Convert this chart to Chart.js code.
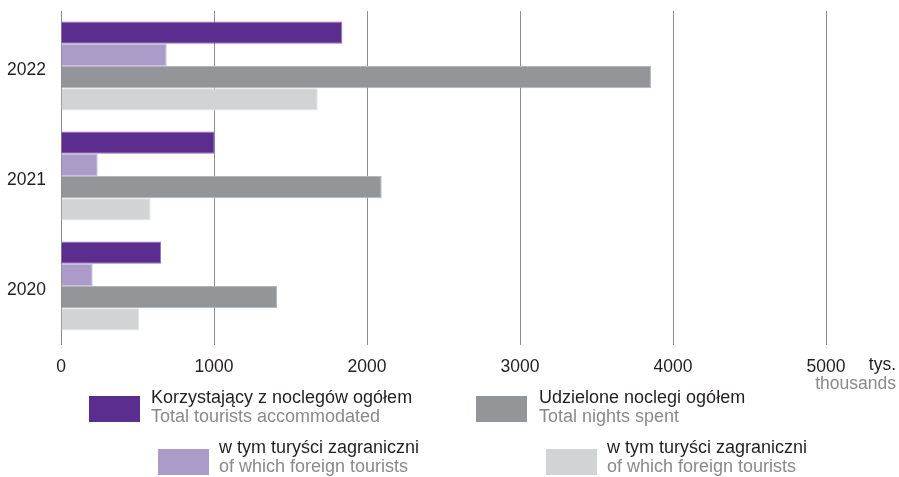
<!DOCTYPE html>
<html>
<head>
<meta charset="utf-8">
<script src="https://cdn.jsdelivr.net/npm/chart.js@4/dist/chart.umd.min.js"></script>
<style>
  html, body { margin: 0; padding: 0; background: #fff; }
  #wrap { position: relative; width: 899px; height: 477px; font-family: "Liberation Sans", Arial, sans-serif; }
  #chart { position: absolute; left: 0; top: 0; }
  .unit { position: absolute; font-size: 17.5px; line-height: 19px; text-align: right; white-space: nowrap; }
  .box { position: absolute; width: 51px; height: 26px; }
  .txt { position: absolute; font-size: 18px; line-height: 19px; white-space: nowrap; color: #231f20; }
  .txt span { display: block; color: #8a8a8a; }
</style>
</head>
<body>
<div id="wrap">
  <canvas id="chart" width="899" height="477"></canvas>
  <div class="unit" style="left:790px; top:355px; width:106px;">
    <span style="color:#231f20">tys.</span><br><span style="color:#8a8a8a">thousands</span>
  </div>
  <div id="legend"></div>
</div>
<script>
// categories (top to bottom)
const years = ['2022', '2021', '2020'];

// values in thousands
const touristsTotal = [1839, 1005, 654];
const touristsForeign = [691, 240, 207];
const nightsTotal = [3856, 2096, 1412];
const nightsForeign = [1678, 586, 510];

const xTicks = [0, 1000, 2000, 3000, 4000, 5000];

const labelsPl = ['Korzystający z noclegów ogółem', 'w tym turyści zagraniczni', 'Udzielone noclegi ogółem', 'w tym turyści zagraniczni'];
const labelsEn = ['Total tourists accommodated', 'of which foreign tourists', 'Total nights spent', 'of which foreign tourists'];

const colors = ['#5b2d8e', '#ab9bc8', '#939598', '#d1d3d4'];
const edges = ['#8f74b8', '#c9bedd', '#b5b6b8', '#e4e5e6'];

const font = "'Liberation Sans', Arial, sans-serif";

document.addEventListener("DOMContentLoaded", function() {
    const series = [touristsTotal, touristsForeign, nightsTotal, nightsForeign];

    const ctx = document.getElementById('chart').getContext('2d');
    new Chart(ctx, {
        type: 'bar',
        data: {
            labels: years,
            datasets: series.map((vals, i) => ({
                label: labelsPl[i],
                data: vals,
                backgroundColor: colors[i],
                borderColor: edges[i],
                borderWidth: 1,
                categoryPercentage: 0.81,
                barPercentage: 1
            }))
        },
        options: {
            indexAxis: 'y',
            responsive: false,
            animation: false,
            layout: { padding: { top: 11, right: 73, bottom: 101, left: 0 } },
            plugins: {
                legend: { display: false },
                tooltip: { enabled: false }
            },
            scales: {
                x: {
                    min: 0,
                    max: 5000,
                    afterFit: function(scale) {
                        scale.height = 35;
                        scale.paddingLeft = 0;
                        scale.paddingRight = 0;
                    },
                    afterBuildTicks: function(scale) {
                        scale.ticks = xTicks.map(v => ({ value: v }));
                    },
                    border: { display: false },
                    grid: {
                        color: '#8c8c8c',
                        lineWidth: 1,
                        drawTicks: true,
                        tickLength: 4
                    },
                    ticks: {
                        color: '#231f20',
                        padding: 12,
                        maxRotation: 0,
                        font: { family: font, size: 17.5 },
                        callback: function(value) { return String(value); }
                    }
                },
                y: {
                    afterFit: function(scale) {
                        scale.width = 61;
                        scale.paddingTop = 0;
                        scale.paddingBottom = 0;
                    },
                    border: { display: false },
                    grid: { display: false, drawTicks: false },
                    ticks: {
                        color: '#231f20',
                        padding: 15,
                        labelOffset: 4,
                        font: { family: font, size: 17.5 }
                    }
                }
            }
        }
    });

    // legend, two rows offset like the original
    const legendPos = [
        { box: [89, 396], txt: [151, 388] },
        { box: [158, 449], txt: [219, 438] },
        { box: [476, 396], txt: [539, 388] },
        { box: [546, 449], txt: [607, 438] }
    ];
    const legend = document.getElementById('legend');
    legendPos.forEach((p, i) => {
        const box = document.createElement('div');
        box.className = 'box';
        box.style.left = p.box[0] + 'px';
        box.style.top = p.box[1] + 'px';
        box.style.background = colors[i];
        legend.appendChild(box);

        const txt = document.createElement('div');
        txt.className = 'txt';
        txt.style.left = p.txt[0] + 'px';
        txt.style.top = p.txt[1] + 'px';
        txt.innerHTML = labelsPl[i] + '<span>' + labelsEn[i] + '</span>';
        legend.appendChild(txt);
    });
});
</script>
</body>
</html>
